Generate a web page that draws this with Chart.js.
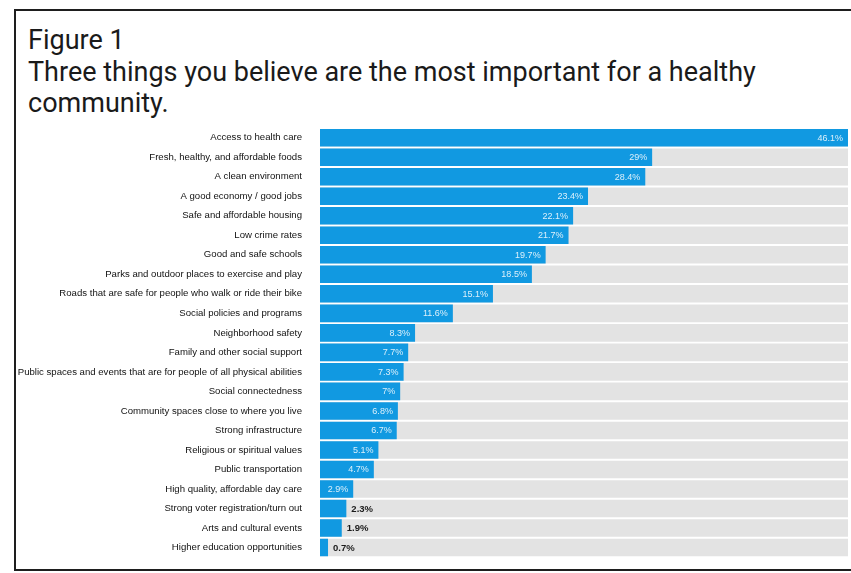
<!DOCTYPE html>
<html>
<head>
<meta charset="utf-8">
<script src="https://cdn.jsdelivr.net/npm/chart.js@4/dist/chart.umd.min.js"></script>
<style>
  html, body { margin: 0; padding: 0; background: #fff; width: 851px; height: 573px; overflow: hidden; }
  #frame { position: absolute; left: 14px; top: 9px; width: 900px; height: 562px; border: 2px solid #1e1e1e; box-sizing: border-box; }
  #title { position: absolute; left: 28px; top: 25px; font-family: Roboto, "Liberation Sans", sans-serif; font-size: 27px; line-height: 31.5px; color: #1a1a1a; }
  #wrap { position: absolute; left: 0; top: 0; width: 851px; height: 573px; }
</style>
</head>
<body>
<div id="frame"></div>
<div id="title">Figure 1<br>Three things you believe are the most important for a healthy<br>community.</div>
<div id="wrap"><canvas id="c" width="851" height="573"></canvas></div>
<script>
const categories = [
  "Access to health care",
  "Fresh, healthy, and affordable foods",
  "A clean environment",
  "A good economy / good jobs",
  "Safe and affordable housing",
  "Low crime rates",
  "Good and safe schools",
  "Parks and outdoor places to exercise and play",
  "Roads that are safe for people who walk or ride their bike",
  "Social policies and programs",
  "Neighborhood safety",
  "Family and other social support",
  "Public spaces and events that are for people of all physical abilities",
  "Social connectedness",
  "Community spaces close to where you live",
  "Strong infrastructure",
  "Religious or spiritual values",
  "Public transportation",
  "High quality, affordable day care",
  "Strong voter registration/turn out",
  "Arts and cultural events",
  "Higher education opportunities"
];
const values = [46.1, 29, 28.4, 23.4, 22.1, 21.7, 19.7, 18.5, 15.1, 11.6, 8.3, 7.7, 7.3, 7, 6.8, 6.7, 5.1, 4.7, 2.9, 2.3, 1.9, 0.7];
const valueLabels = ["46.1%", "29%", "28.4%", "23.4%", "22.1%", "21.7%", "19.7%", "18.5%", "15.1%", "11.6%", "8.3%", "7.7%", "7.3%", "7%", "6.8%", "6.7%", "5.1%", "4.7%", "2.9%", "2.3%", "1.9%", "0.7%"];
const trackMax = 46.1;
const trackValues = categories.map(() => trackMax);

const valueLabelPlugin = {
  id: 'valueLabels',
  afterDatasetsDraw(chart) {
    const ctx = chart.ctx;
    const meta = chart.getDatasetMeta(1);
    ctx.save();
    ctx.textBaseline = 'middle';
    meta.data.forEach((bar, i) => {
      const v = values[i];
      if (v >= 2.5) {
        ctx.font = '9px "Liberation Sans", Arial, sans-serif';
        ctx.fillStyle = 'rgba(255,255,255,0.85)';
        ctx.textAlign = 'right';
        ctx.fillText(valueLabels[i], bar.x - 5, bar.y + 0.5);
      } else {
        ctx.font = 'bold 9.5px "Liberation Sans", Arial, sans-serif';
        ctx.fillStyle = '#1a1a1a';
        ctx.textAlign = 'left';
        ctx.fillText(valueLabels[i], bar.x + 5, bar.y + 0.5);
      }
    });
    ctx.restore();
  }
};

new Chart(document.getElementById('c'), {
  type: 'bar',
  data: {
    labels: categories,
    datasets: [
      { data: trackValues, backgroundColor: '#e3e3e3', grouped: false, order: 2, barPercentage: 0.9, categoryPercentage: 1.0 },
      { data: values, backgroundColor: '#1199e1', grouped: false, order: 1, barPercentage: 0.9, categoryPercentage: 1.0 }
    ]
  },
  options: {
    indexAxis: 'y',
    responsive: false,
    animation: false,
    events: [],
    layout: { padding: { left: 0, right: 3, top: 128, bottom: 5 } },
    plugins: { legend: { display: false }, tooltip: { enabled: false }, title: { display: false } },
    scales: {
      x: { display: false, min: 0, max: trackMax },
      y: {
        grid: { display: false },
        border: { display: false },
        ticks: {
          color: '#111',
          padding: 10,
          autoSkip: false,
          font: { family: '"Liberation Sans", Arial, sans-serif', size: 9.6 }
        },
        afterFit(scale) { scale.width = 320; }
      }
    }
  },
  plugins: [valueLabelPlugin]
});
</script>
</body>
</html>
